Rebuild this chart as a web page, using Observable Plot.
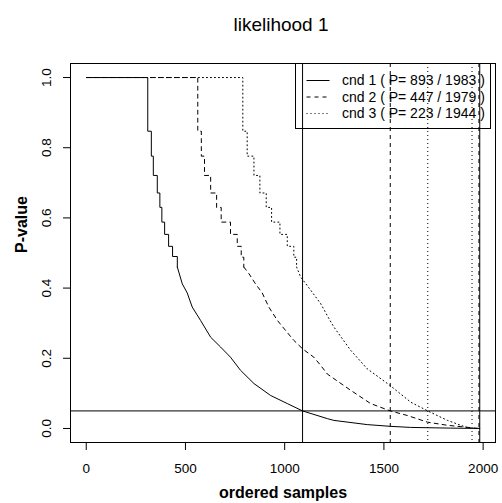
<!DOCTYPE html>
<html>
<head>
<meta charset="utf-8">
<script src="https://cdn.jsdelivr.net/npm/d3@7"></script>
<script src="https://cdn.jsdelivr.net/npm/@observablehq/plot@0.6"></script>
<style>
  html, body { margin: 0; padding: 0; background: white; }
  #chart svg { display: block; }
</style>
</head>
<body>
<div id="chart"></div>
<script>
// ---- data ----
const titleText = "likelihood 1";
const xLabel = "ordered samples";
const yLabel = "P-value";
const xTicks = [0, 500, 1000, 1500, 2000];
const yTicks = [0.0, 0.2, 0.4, 0.6, 0.8, 1.0];
const seriesNames = ["cnd 1", "cnd 2", "cnd 3"];
const hits = [893, 447, 223];
const totals = [1983, 1979, 1944];
const cutoff = 0.05;

const cnd1 = [
  [1, 1.0], [310, 0.847], [328, 0.776], [338, 0.721], [358, 0.671], [371, 0.630],
  [381, 0.588], [395, 0.553], [415, 0.519], [435, 0.490], [459, 0.460],
  [484, 0.412], [509, 0.386], [534, 0.346], [576, 0.308], [627, 0.260],
  [677, 0.232], [727, 0.203], [777, 0.166], [845, 0.128], [929, 0.094],
  [1013, 0.071], [1090, 0.050], [1215, 0.028], [1248, 0.023], [1416, 0.011],
  [1534, 0.006], [1635, 0.003], [1836, 0.001], [1983, 0.0]
];
const cnd2 = [
  [1, 1.0], [562, 0.847], [580, 0.776], [596, 0.721], [627, 0.671], [657, 0.630],
  [680, 0.588], [727, 0.553], [761, 0.519], [781, 0.488], [794, 0.460],
  [820, 0.441], [853, 0.412], [887, 0.386], [920, 0.346], [963, 0.308],
  [1005, 0.279], [1046, 0.251], [1092, 0.226], [1147, 0.203], [1181, 0.180],
  [1215, 0.155], [1248, 0.142], [1332, 0.109], [1433, 0.071], [1532, 0.050],
  [1618, 0.037], [1719, 0.018], [1820, 0.009], [1979, 0.0]
];
const cnd3 = [
  [1, 1.0], [789, 0.847], [811, 0.776], [845, 0.721], [875, 0.671], [907, 0.630],
  [934, 0.588], [976, 0.553], [1013, 0.519], [1046, 0.488], [1060, 0.460],
  [1080, 0.432], [1131, 0.394], [1181, 0.356], [1223, 0.313], [1248, 0.289],
  [1332, 0.223], [1416, 0.170], [1530, 0.123], [1635, 0.075], [1721, 0.050],
  [1820, 0.023], [1912, 0.004], [1944, 0.0]
];

// ---- styles ----
const series = [cnd1, cnd2, cnd3];
const dashes = [null, "4,4", "1,3"];
const font = "Arial, 'Liberation Sans', Helvetica, sans-serif";
const W = 502, H = 503;
const mL = 70, mR = 7, mT = 63, mB = 61;

function splitSeries(pts) {
  // visible staircase in the upper part, fine steps (drawn smooth) in the tail
  let k = 0;
  pts.forEach((d, i) => { if (d[1] >= 0.45) k = i; });
  return { head: pts.slice(0, k + 1), tail: pts.slice(k) };
}

const marks = [];
series.forEach((pts, i) => {
  const { head, tail } = splitSeries(pts);
  const st = { stroke: "black", strokeWidth: 1 };
  if (dashes[i]) st.strokeDasharray = dashes[i];
  marks.push(Plot.line(head, { x: d => d[0], y: d => d[1], curve: "step-after", ...st }));
  marks.push(Plot.line(tail, { x: d => d[0], y: d => d[1], curve: "linear", ...st }));
  const rs = { stroke: "black", strokeWidth: 1 };
  if (dashes[i]) rs.strokeDasharray = dashes[i];
  marks.push(Plot.ruleX([totals[i] - hits[i], totals[i]], rs));
});
marks.push(Plot.ruleY([cutoff], { stroke: "black", strokeWidth: 1 }));

const xExt = d3.extent([0, ...totals]);
const xPad = (xExt[1] - xExt[0]) * 0.04;

const chart = Plot.plot({
  width: W,
  height: H,
  marginLeft: mL, marginRight: mR, marginTop: mT, marginBottom: mB,
  style: { fontFamily: font, background: "white", color: "black", overflow: "visible" },
  x: { domain: [xExt[0] - xPad, xExt[1] + xPad] },
  y: { domain: [-0.04, 1.04] },
  marks: [
    ...marks,
    Plot.frame({ stroke: "black", strokeWidth: 1 }),
    Plot.axisX({ ticks: xTicks, tickSize: 8, tickPadding: 13, fontSize: 13.5,
                 tickFormat: d => String(d), label: null, stroke: "black" }),
    Plot.axisY({ ticks: yTicks, tickSize: 7, tickFormat: () => "", label: null, stroke: "black" }),
    Plot.text(yTicks, { y: d => d, text: d => d.toFixed(1), frameAnchor: "left", dx: -24,
                        rotate: -90, fontSize: 13.5, textAnchor: "middle", lineAnchor: "middle", fill: "black" }),
    Plot.text([titleText], { text: d => d, frameAnchor: "top", dx: -2, dy: -39,
                             fontSize: 19, lineAnchor: "middle", fill: "black" }),
    Plot.text([xLabel], { text: d => d, frameAnchor: "bottom", dy: 50,
                          fontSize: 16, fontWeight: "bold", lineAnchor: "middle", fill: "black" }),
    Plot.text([yLabel], { text: d => d, frameAnchor: "left", dx: -49, rotate: -90,
                          fontSize: 16, fontWeight: "bold", lineAnchor: "middle", fill: "black" })
  ]
});

// ---- legend (R style box, transparent background) ----
const svg = d3.select(chart);
const lg = svg.append("g").attr("font-family", font).attr("font-size", 14).attr("text-anchor", "start");
const bx0 = 295.5, bx1 = 490.5, by0 = mT + 0.5, by1 = 128.5;
lg.append("rect").attr("x", bx0).attr("y", by0).attr("width", bx1 - bx0).attr("height", by1 - by0)
  .attr("fill", "none").attr("stroke", "black").attr("stroke-width", 1);
seriesNames.forEach((name, i) => {
  const y = 80.5 + i * 16.5;
  const ln = lg.append("line").attr("x1", 306.5).attr("x2", 329.5).attr("y1", y).attr("y2", y)
    .attr("stroke", "black").attr("stroke-width", 1);
  if (dashes[i]) ln.attr("stroke-dasharray", dashes[i]);
  lg.append("text").attr("x", 342).attr("y", y).attr("dy", "0.35em").attr("fill", "black")
    .attr("text-anchor", "start")
    .text(`${name} ( P= ${hits[i]} / ${totals[i]} )`);
});

document.getElementById("chart").appendChild(chart);
</script>
</body>
</html>
